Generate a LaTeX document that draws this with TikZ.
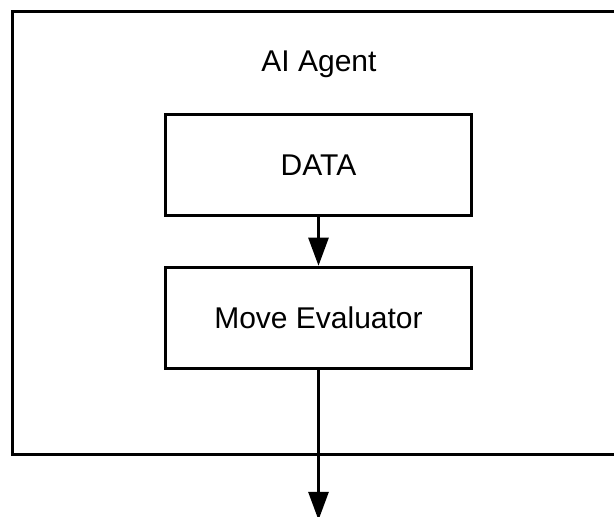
\documentclass[tikz,border=0pt]{standalone}
\usepackage{fontspec}
\setmainfont{Liberation Sans}
\usetikzlibrary{arrows.meta,positioning}

\begin{document}
\begin{tikzpicture}[
    x=1pt, y=1pt,
    block/.style={rectangle, draw=black, line width=3pt, minimum width=306.5pt, minimum height=101.5pt, align=center, font=\fontsize{30}{36}\selectfont},
    flow/.style={-{Triangle[length=28pt,width=20pt]}, line width=2.5pt}
]
    \useasboundingbox (0,0) rectangle (614,517);
    \clip (0,0) rectangle (614,517);

    % Agent frame
    \draw[line width=3pt] (12,62) rectangle (625,505);
    \node[anchor=base, font=\fontsize{30}{36}\selectfont] (agent) at (319,445) {AI Agent};

    % Inner stages
    \node[block] (data) at (318.5,352) {DATA};
    \node[block] (eval) at (318.5,199) {Move Evaluator};

    % Flow arrows
    \coordinate (out) at (318.5,-3);
    \draw[flow] (data) -- (eval);
    \draw[flow] (eval) -- (out);
\end{tikzpicture}
\end{document}
